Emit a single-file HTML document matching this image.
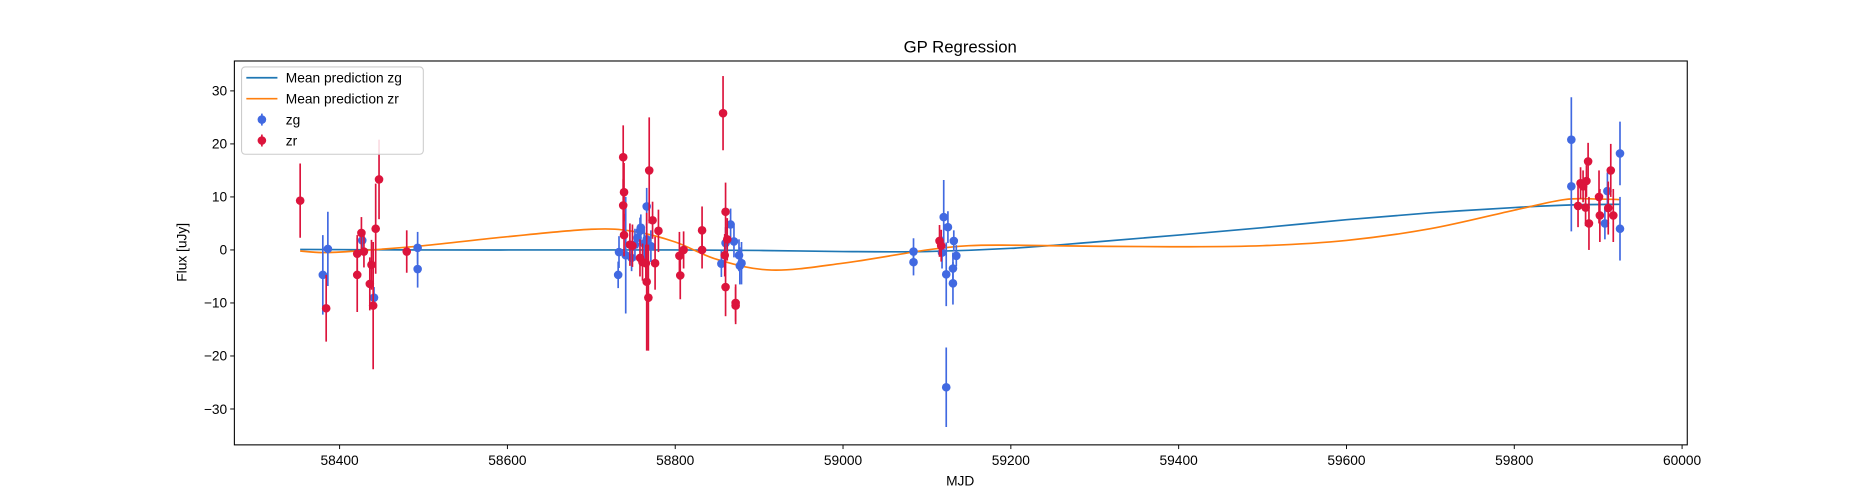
<!DOCTYPE html>
<html><head><meta charset="utf-8"><style>
body{margin:0;background:#fff}
svg{display:block;font-family:"Liberation Sans","DejaVu Sans",sans-serif}
</style></head><body>
<svg id="chart" width="1875" height="500" viewBox="0 0 1568 418.1" preserveAspectRatio="none" xmlns="http://www.w3.org/2000/svg">
<rect width="1568" height="420" fill="#fff"/>
<text x="803" y="44" font-size="14" text-anchor="middle">GP Regression</text>
<text x="803" y="406" font-size="11.5" text-anchor="middle">MJD</text>
<text x="156" y="211" font-size="11.5" text-anchor="middle" transform="rotate(-90 156 211)">Flux [uJy]</text>
<g id="plot"></g>
<g id="axes"></g>
</svg>
<script>
const xTicks=[58400,58600,58800,59000,59200,59400,59600,59800,60000];
const yTicks=[-30,-20,-10,0,10,20,30];
const zgMjd=[58380,58386,58427,58441,58493,58493,58732,58733,58741,58748,58752,58755,58758,58759,58763,58766,58766,58771,58855,58860,58866,58870,58876,58877,58879,59084,59084,59118,59120,59123,59123,59125,59131,59131,59132,59135,59868,59868,59908,59911,59926,59926];
const zgFlux=[-4.7,0.2,1.8,-9,-3.6,0.4,-4.7,-0.4,-1,-1.5,1,2.3,3.6,4.2,1.2,2,8.2,0.7,-2.6,1.3,4.8,1.6,-1,-3,-2.5,-0.3,-2.3,-0.5,6.2,-25.9,-4.6,4.3,-6.3,-3.5,1.7,-1.1,20.8,12,5,11.1,18.2,4];
const zgErr=[7.5,7,1.5,2,3.5,3,2.5,3,11,2.5,3,2,2.5,2.5,3,3,3.5,3,2.5,3,3,3,3,3.5,4,2.5,2.5,3,7,7.5,6,3,4,3,2,2,8,8.5,3,3.5,6,6];
const zrMjd=[58353,58384,58421,58421,58426,58429,58436,58438,58440,58443,58447,58480,58738,58739,58738,58739,58746,58749,58758,58761,58765,58768,58769,58766,58773,58776,58780,58805,58806,58810,58832,58832,58857,58860,58860,58862,58859,58872,58872,59115,59117,59876,59879,59882,59885,59886,59888,59889,59901,59902,59912,59915,59918];
const zrFlux=[9.3,-11,-0.7,-4.7,3.2,-0.3,-6.4,-2.8,-10.5,4,13.3,-0.3,17.5,10.9,8.4,2.8,1,0.8,-1.5,-2.3,-2.5,-9,15,-6,5.6,-2.5,3.6,-1.1,-4.8,0,3.7,0,25.8,7.2,-7,2,-1,-10,-10.5,1.7,0.8,8.3,12.6,12,8,13,16.7,5,10,6.5,7.9,15,6.5];
const zrErr=[7,6.3,3.5,7,3,3,5,4.7,12,8.5,7.5,4,6,5.5,5,4,4,4,3.5,3.5,3.5,10,10,13,3.5,5,4,4.5,4.5,3.5,4.5,3.5,7,5.5,5.5,4,4,3.5,3.5,3,3,4,3,3,3.5,3,3.5,5,5,5,5,5,5];
const zgMeanX=[58353,58500,58700,58800,58900,59000,59100,59200,59300,59400,59500,59600,59700,59800,59870,59926];
const zgMeanY=[0.1,0,0,0,-0.1,-0.3,-0.3,0.3,1.5,2.8,4.2,5.7,7,8,8.5,8.6];
const zrMeanX=[58353,58380,58420,58500,58600,58700,58750,58800,58850,58915,59000,59100,59150,59200,59300,59400,59500,59600,59700,59800,59860,59900,59926];
const zrMeanY=[-0.2,-0.5,-0.2,0.8,2.5,3.9,3.5,1.5,-1.8,-3.8,-2.5,0,0.8,0.9,0.7,0.6,0.8,1.8,4,7.5,9.5,9.6,9.5];

const L=196,R=1411,T=51,B=372;
const sx=v=>284+(v-58400)*0.70167;
const sy=v=>209-v*4.4333;
const NS="http://www.w3.org/2000/svg";
const plot=document.getElementById('plot'),axes=document.getElementById('axes');
function mk(tag,attrs,parent){const e=document.createElementNS(NS,tag);for(const k in attrs)e.setAttribute(k,attrs[k]);parent.appendChild(e);return e;}
function pathFrom(xs,ys){const p=xs.map((x,i)=>[sx(x),sy(ys[i])]);let d='M'+p[0][0]+','+p[0][1];
for(let i=0;i<p.length-1;i++){const p0=p[Math.max(0,i-1)],p1=p[i],p2=p[i+1],p3=p[Math.min(p.length-1,i+2)];
d+=' C'+(p1[0]+(p2[0]-p0[0])/6)+','+(p1[1]+(p2[1]-p0[1])/6)+' '+(p2[0]-(p3[0]-p1[0])/6)+','+(p2[1]-(p3[1]-p1[1])/6)+' '+p2[0]+','+p2[1];}return d;}
let e;
e=mk('path',{d:pathFrom(zgMeanX,zgMeanY),fill:'none',stroke:'#1f77b4','stroke-width':1.4},plot);


e=mk('path',{d:pathFrom(zrMeanX,zrMeanY),fill:'none',stroke:'#ff7f0e','stroke-width':1.4},plot);


function points(xs,ys,es,col,name){xs.forEach((x,i)=>{const g=mk('g',{},plot);


mk('line',{x1:sx(x),x2:sx(x),y1:sy(ys[i]-es[i]),y2:sy(ys[i]+es[i]),stroke:col,'stroke-width':1.4},g);
mk('circle',{cx:sx(x),cy:sy(ys[i]),r:3.6,fill:col},g);});}
points(zgMjd,zgFlux,zgErr,'#4169e1','zg');
points(zrMjd,zrFlux,zrErr,'#dc143c','zr');
e=mk('rect',{x:L,y:T,width:R-L,height:B-T,fill:'none',stroke:'#000','stroke-width':0.9},axes);


xTicks.forEach(t=>{const x=sx(t);mk('line',{x1:x,x2:x,y1:B,y2:B+3.5,stroke:'#000','stroke-width':0.8},axes);
e=mk('text',{x:x,y:B+17,'font-size':11.5,'text-anchor':'middle'},axes);e.textContent=t;

});
yTicks.forEach(t=>{const y=sy(t);mk('line',{x1:L-3.5,x2:L,y1:y,y2:y,stroke:'#000','stroke-width':0.8},axes);
e=mk('text',{x:L-6,y:y+4,'font-size':11.5,'text-anchor':'end'},axes);e.textContent=(t<0?'\u2212'+(-t):t);

});
const lg=mk('g',{},axes);


mk('rect',{x:202,y:56,width:152,height:73,rx:3,fill:'#fff','fill-opacity':0.85,stroke:'#ccc','stroke-width':0.9},lg);
const items=[['line','#1f77b4','Mean prediction zg'],['line','#ff7f0e','Mean prediction zr'],['pt','#4169e1','zg'],['pt','#dc143c','zr']];
items.forEach((it,i)=>{const y=65+i*17.5;const g=mk('g',{},lg);


if(it[0]=='line')mk('line',{x1:206,x2:232,y1:y,y2:y,stroke:it[1],'stroke-width':1.4},g);
else{mk('line',{x1:219,x2:219,y1:y-5,y2:y+5,stroke:it[1],'stroke-width':1.4},g);mk('circle',{cx:219,cy:y,r:3.6,fill:it[1]},g);}
const t=mk('text',{x:239,y:y+4,'font-size':11.5},g);t.textContent=it[2];});
</script>
</body></html>
